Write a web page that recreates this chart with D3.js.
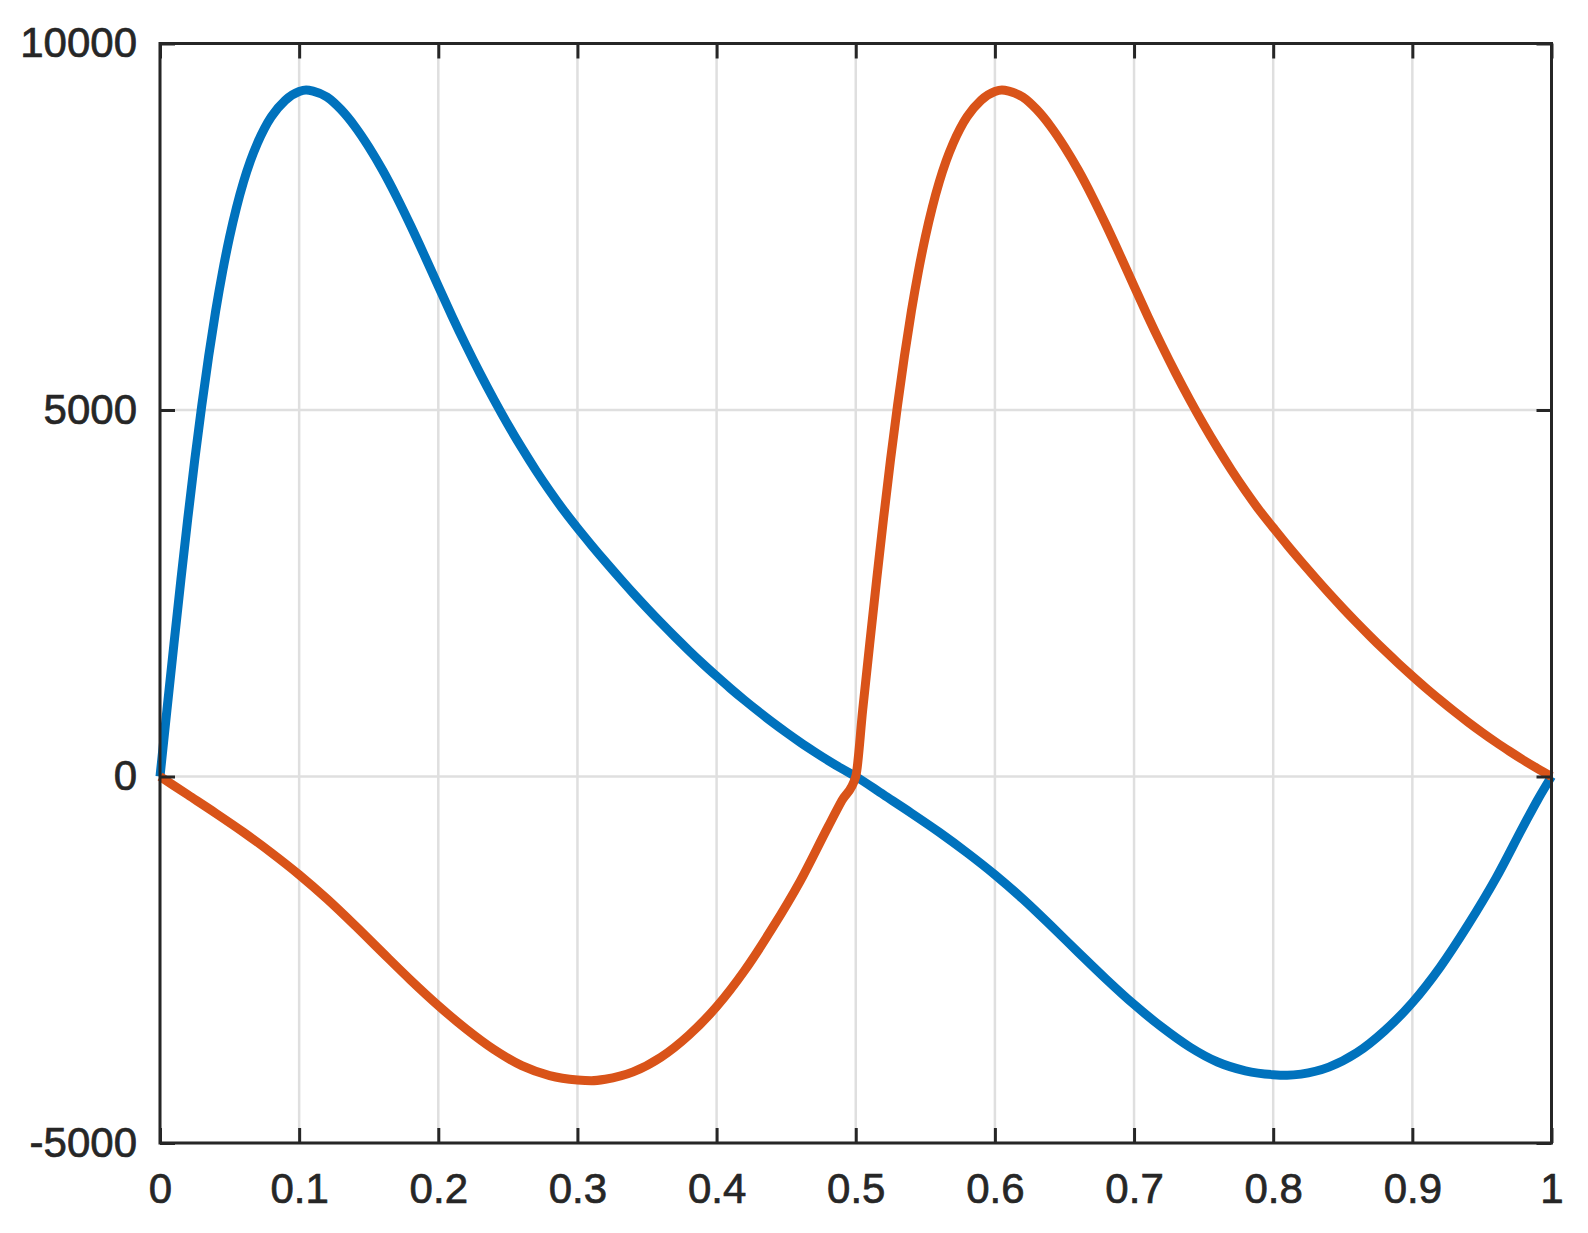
<!DOCTYPE html>
<html>
<head>
  <meta charset="UTF-8">
  <title>Two periodic curves</title>
  <script src="https://d3js.org/d3.v7.min.js"></script>
  <style>
    body { margin: 0; background: #fff; }
    svg { display: block; }
  </style>
</head>
<body>
<svg id="chart"></svg>
<script>
// values
const blueX = [0, 0.005, 0.01, 0.015, 0.02, 0.025, 0.03, 0.035, 0.04, 0.045, 0.05, 0.055, 0.06, 0.065, 0.07, 0.075, 0.08, 0.09, 0.1, 0.105, 0.11,
  0.12, 0.13, 0.14, 0.15, 0.16, 0.17, 0.18, 0.19, 0.2, 0.21, 0.22, 0.23, 0.24, 0.25, 0.26, 0.27, 0.28, 0.29, 0.3,
  0.31, 0.32, 0.33, 0.34, 0.35, 0.36, 0.37, 0.38, 0.39, 0.4, 0.41, 0.42, 0.43, 0.44, 0.45, 0.46, 0.47, 0.48, 0.49, 0.5,
  0.52, 0.54, 0.56, 0.58, 0.6, 0.62, 0.64, 0.66, 0.68, 0.7, 0.72, 0.74, 0.76, 0.78, 0.8, 0.81, 0.82, 0.84, 0.86, 0.88,
  0.9, 0.92, 0.94, 0.96, 0.98, 0.99, 1];
const blueY = [0, 910, 1805, 2680, 3525, 4325, 5060, 5740, 6350, 6890, 7360, 7765, 8110, 8400, 8640, 8840, 9000, 9225, 9345, 9366, 9350,
  9270, 9100, 8870, 8590, 8270, 7910, 7520, 7110, 6690, 6275, 5878, 5500, 5142, 4802, 4482, 4180, 3898, 3634, 3390,
  3158, 2933, 2715, 2502, 2297, 2098, 1906, 1720, 1540, 1368, 1201, 1042, 889, 742, 602, 468, 342, 221, 107, 0,
  -250, -500, -760, -1040, -1340, -1670, -2030, -2400, -2765, -3110, -3420, -3690, -3895, -4015, -4068, -4075, -4060, -3965, -3770, -3470,
  -3085, -2600, -2025, -1390, -670, -320, 0];

const orangeX = [0, 0.02, 0.04, 0.06, 0.08, 0.1, 0.12, 0.14, 0.16, 0.18, 0.2, 0.22, 0.24, 0.26, 0.28, 0.3, 0.31, 0.32,
  0.34, 0.36, 0.38, 0.4, 0.42, 0.44, 0.46, 0.48, 0.49, 0.5,
  0.505, 0.51, 0.515, 0.52, 0.525, 0.53, 0.535, 0.54, 0.545, 0.55, 0.555, 0.56, 0.565, 0.57, 0.575, 0.58, 0.59, 0.6, 0.605, 0.61,
  0.62, 0.63, 0.64, 0.65, 0.66, 0.67, 0.68, 0.69, 0.7, 0.71, 0.72, 0.73, 0.74, 0.75, 0.76, 0.77, 0.78, 0.79, 0.8,
  0.81, 0.82, 0.83, 0.84, 0.85, 0.86, 0.87, 0.88, 0.89, 0.9, 0.91, 0.92, 0.93, 0.94, 0.95, 0.96, 0.97, 0.98, 0.99, 1];
const orangeY = [0, -250, -500, -760, -1040, -1340, -1670, -2030, -2405, -2775, -3125, -3445, -3725, -3945, -4080, -4140, -4150, -4130,
  -4030, -3830, -3530, -3140, -2650, -2070, -1430, -690, -330, 0,
  910, 1805, 2680, 3525, 4325, 5060, 5740, 6350, 6890, 7360, 7765, 8110, 8400, 8640, 8840, 9000, 9225, 9345, 9366, 9350,
  9270, 9100, 8870, 8590, 8270, 7910, 7520, 7110, 6690, 6275, 5878, 5500, 5142, 4802, 4482, 4180, 3898, 3634, 3395,
  3160, 2935, 2716, 2503, 2298, 2099, 1907, 1721, 1542, 1370, 1203, 1044, 890, 743, 603, 469, 343, 222, 108, 0];

const xTicks = [0, 0.1, 0.2, 0.3, 0.4, 0.5, 0.6, 0.7, 0.8, 0.9, 1];
const yTicks = [-5000, 0, 5000, 10000];

const W = 1588, H = 1233;
const margin = { top: 43.5, right: 36.5, bottom: 90, left: 160 };
const width = W - margin.left - margin.right;
const height = H - margin.top - margin.bottom;

const svg = d3.select('#chart')
  .attr('width', W)
  .attr('height', H);

const g = svg.append('g')
  .attr('transform', `translate(${margin.left}, ${margin.top})`);

const xScale = d3.scaleLinear().domain([0, 1]).range([0, width]);
const yScale = d3.scaleLinear().domain([-5000, 10000]).range([height, 0]);

// grid
g.append('g')
  .selectAll('line')
  .data(xTicks)
  .join('line')
    .attr('x1', d => xScale(d)).attr('x2', d => xScale(d))
    .attr('y1', 0).attr('y2', height)
    .attr('stroke', '#dfdfdf')
    .attr('stroke-width', 2.5);

g.append('g')
  .selectAll('line')
  .data(yTicks)
  .join('line')
    .attr('y1', d => yScale(d)).attr('y2', d => yScale(d))
    .attr('x1', 0).attr('x2', width)
    .attr('stroke', '#dfdfdf')
    .attr('stroke-width', 2.5);

// curves
const line = d3.line()
  .x(d => xScale(d[0]))
  .y(d => yScale(d[1]))
  .curve(d3.curveMonotoneX);

const series = [
  { xs: blueX, ys: blueY, color: '#0072BD' },
  { xs: orangeX, ys: orangeY, color: '#D95319' }
];

series.forEach(s => {
  g.append('path')
    .datum(s.xs.map((x, i) => [x, s.ys[i]]))
    .attr('fill', 'none')
    .attr('stroke', s.color)
    .attr('stroke-width', 9)
    .attr('stroke-linejoin', 'round')
    .attr('d', line);
});

// axes: a box with inward ticks on every side
const tickLen = 15;
const fmt = d => String(d);   // keeps the plain hyphen in -5000
const axisStyle = sel => {
  sel.select('.domain').remove();
  sel.selectAll('.tick line').attr('stroke', '#262626').attr('stroke-width', 3);
  sel.selectAll('.tick text')
    .attr('fill', '#262626')
    .attr('stroke', '#262626')
    .attr('stroke-width', 0.7)
    .style('font-family', 'Arial, "Liberation Sans", Helvetica, sans-serif')
    .style('font-size', '42px');
};

g.append('g')
  .attr('transform', `translate(0, ${height})`)
  .call(d3.axisBottom(xScale).tickValues(xTicks).tickFormat(fmt).tickSizeInner(-tickLen).tickPadding(30))
  .call(axisStyle);

g.append('g')
  .call(d3.axisTop(xScale).tickValues(xTicks).tickFormat('').tickSizeInner(-tickLen))
  .call(axisStyle);

g.append('g')
  .call(d3.axisLeft(yScale).tickValues(yTicks).tickFormat(fmt).tickSizeInner(-tickLen).tickPadding(23))
  .call(axisStyle);

g.append('g')
  .attr('transform', `translate(${width}, 0)`)
  .call(d3.axisRight(yScale).tickValues(yTicks).tickFormat('').tickSizeInner(-tickLen))
  .call(axisStyle);

g.append('rect')
  .attr('x', 0).attr('y', 0)
  .attr('width', width).attr('height', height)
  .attr('fill', 'none')
  .attr('stroke', '#262626')
  .attr('stroke-width', 3);
</script>
</body>
</html>
